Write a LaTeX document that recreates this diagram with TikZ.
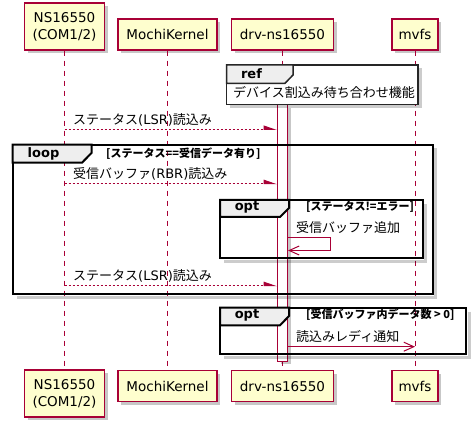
\documentclass[tikz,border=0pt]{standalone}
\usepackage{fontspec}
\setmainfont{DejaVu Sans}
\newfontfamily\jp{Noto Sans CJK JP}
\usetikzlibrary{arrows.meta,shadows}
\definecolor{pborder}{HTML}{A80036}
\definecolor{pfill}{HTML}{FEFECE}
\definecolor{tabfill}{HTML}{EEEEEE}
\begin{document}
\begin{tikzpicture}[x=1pt,y=-1pt,
  part/.style={draw=pborder, fill=pfill, line width=1.2pt, inner sep=0pt, align=center,
    font=\fontsize{13.5}{17}\selectfont,
    drop shadow={shadow xshift=3pt, shadow yshift=-3pt, fill=black, opacity=0.22}},
  lifeline/.style={draw=pborder, line width=1pt, dash pattern=on 5pt off 5pt},
  actbar/.style={draw=pborder, fill=white, line width=1pt, minimum width=10pt,
    minimum height=256pt, inner sep=0pt,
    drop shadow={shadow xshift=3pt, shadow yshift=-3pt, fill=black, opacity=0.22}},
  msgd/.style={draw=pborder, line width=1pt, dash pattern=on 2pt off 2pt,
    -{Triangle[left,length=12pt,width=8pt,fill=pborder]}},
  msgo/.style={draw=pborder, line width=1pt, -{Straight Barb[length=10pt,width=9pt]}},
  mtext/.style={inner sep=0pt, anchor=base west, font=\fontsize{13}{15}\selectfont},
  frame/.style={draw=black, line width=2pt},
  fshadow/.style={draw=black, opacity=0.2, line width=3pt},
  glabel/.style={inner sep=0pt, anchor=base, font=\fontsize{13}{15}\selectfont\bfseries},
  gcond/.style={inner sep=0pt, anchor=base west, font=\fontsize{11}{13}\selectfont\jp\bfseries},
]
\useasboundingbox (0,0) rectangle (476,427);
\fill[white] (0,0) rectangle (476,427);

% participants
\node[part, minimum width=80pt, minimum height=47pt] (nsT) at (64.5,26.5) {NS16550\\(COM1/2)};
\node[part, minimum width=99pt, minimum height=31pt] (mkT) at (167.5,34.5) {MochiKernel};
\node[part, minimum width=102pt, minimum height=31pt] (drvT) at (282.5,34.5) {drv-ns16550};
\node[part, minimum width=46pt, minimum height=31pt] (mvT) at (415,34.5) {mvfs};
\node[part, minimum width=80pt, minimum height=47pt] (nsB) at (64.5,393.5) {NS16550\\(COM1/2)};
\node[part, minimum width=99pt, minimum height=31pt] (mkB) at (167.5,386) {MochiKernel};
\node[part, minimum width=102pt, minimum height=31pt] (drvB) at (282.5,386) {drv-ns16550};
\node[part, minimum width=46pt, minimum height=31pt] (mvB) at (415,386) {mvfs};

% lifelines
\draw[lifeline] (nsT) -- (nsB);
\draw[lifeline] (mkT) -- (mkB);
\draw[lifeline] (drvT) -- (drvB);
\draw[lifeline] (mvT) -- (mvB);

% activation
\node[actbar] (act) at (282.5,233) {};

% ref frame
\fill[black,opacity=0.2] (230,68.5) rectangle (421.5,107.8);
\draw[black!85, line width=1.5pt, fill=white] (226.7,65) rectangle (418,104.3);
\draw[black!85, line width=1.5pt, fill=tabfill] (226.7,65) -- (293,65) -- (293,75) -- (285,83.3) -- (226.7,83.3) -- cycle;
\node[glabel] (refL) at (251.5,78.5) {ref};
\node[mtext] (refT) at (233,97.5) {\jp デバイス割込み待ち合わせ機能};

% loop frame
\draw[fshadow] (435.7,148.5) -- (435.7,297.3) -- (16.5,297.3);
\draw[frame] (12.7,144.7) rectangle (432.7,294.3);
\draw[frame, fill=tabfill] (12.7,144.7) -- (91.5,144.7) -- (91.5,153) -- (82,162.7) -- (12.7,162.7) -- cycle;
\node[glabel] (loopL) at (43.5,157.5) {loop};
\node[gcond] (loopC) at (106,157.5) {[ステータス==受信データ有り]};

% opt 1
\draw[fshadow] (425.7,204) -- (425.7,261.3) -- (224,261.3);
\draw[frame] (220,200) rectangle (422.7,258.3);
\draw[frame, fill=tabfill] (220,200) -- (289,200) -- (289,208) -- (280,217) -- (220,217) -- cycle;
\node[glabel] (opt1L) at (247,211) {opt};
\node[gcond] (opt1C) at (306,211) {[ステータス!=エラー]};

% opt 2
\draw[fshadow] (469,311.5) -- (469,357) -- (224,357);
\draw[frame] (220,307.7) rectangle (466,354);
\draw[frame, fill=tabfill] (220,307.7) -- (289,307.7) -- (289,316) -- (280,325.3) -- (220,325.3) -- cycle;
\node[glabel] (opt2L) at (247,319) {opt};
\node[gcond] (opt2C) at (306,319) {[受信バッファ内データ数 > 0]};

% message rows
\coordinate (y1) at (0,129.5);
\coordinate (y2) at (0,183.7);
\coordinate (ys1) at (0,238);
\coordinate (ys2) at (0,250.5);
\coordinate (y3) at (0,285.7);
\coordinate (y4) at (0,346.7);

\draw[msgd] (nsT |- y1) -- (act.west |- y1);
\node[mtext] (t1) at (73,124.5) {{\jp ステータス}(LSR){\jp 読込み}};

\draw[msgd] (nsT |- y2) -- (act.west |- y2);
\node[mtext] (t2) at (73,178.7) {{\jp 受信バッファ}(RBR){\jp 読込み}};

\draw[msgo] (act.east |- ys1) -- ++(42,0) -- ++(0,12.5) -- (act.east |- ys2);
\node[mtext] (ts) at (296,232.5) {\jp 受信バッファ追加};

\draw[msgd] (nsT |- y3) -- (act.west |- y3);
\node[mtext] (t3) at (73,280.7) {{\jp ステータス}(LSR){\jp 読込み}};

\draw[msgo] (act.east |- y4) -- (mvT |- y4);
\node[mtext] (t4) at (296,341.5) {\jp 読込みレディ通知};
\end{tikzpicture}
\end{document}
